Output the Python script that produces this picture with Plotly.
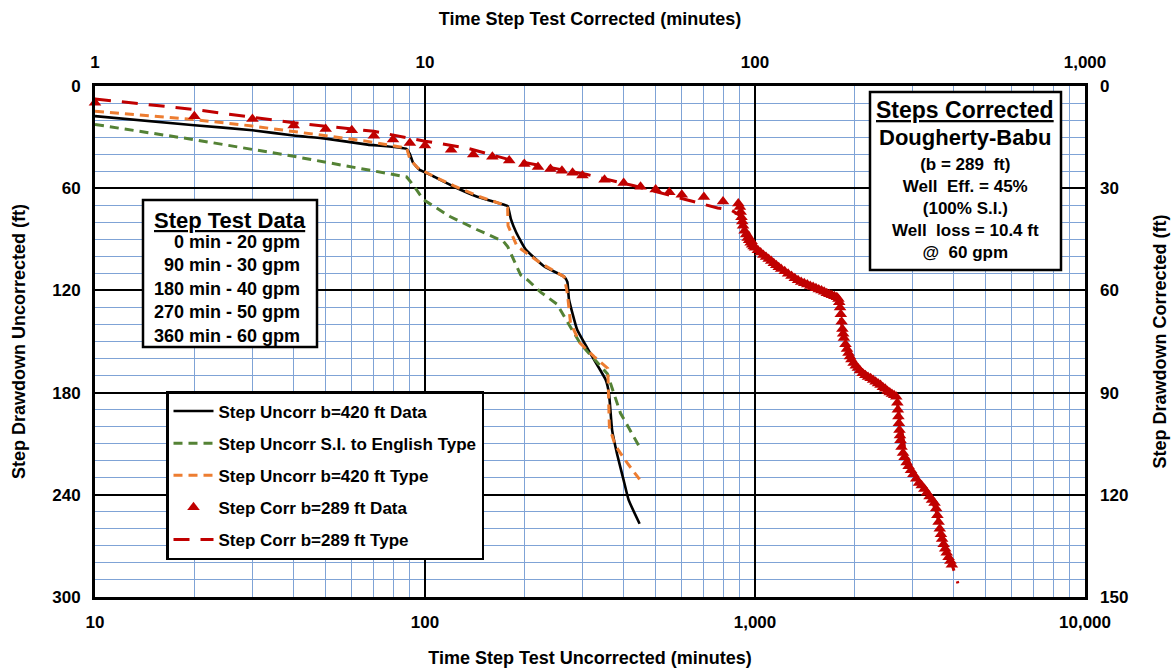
import plotly.graph_objects as go

# ---------------- data ----------------
# Uncorrected step test (bottom x axis: minutes, left y axis: ft)
unc_data_t = [10, 20, 30, 40, 50, 67, 88, 90, 92, 96, 106, 122, 144, 169, 178, 182, 189, 202, 230, 264, 270, 273,
              289, 317, 353, 361, 369, 382, 400, 414, 447]
unc_data_d = [17.7, 23.0, 26.0, 29.1, 30.9, 34.4, 37.0, 40.0, 45.0, 49.0, 53.0, 59.0, 65.0, 69.0, 70.5, 78.0, 86.0,
              96.0, 106.0, 112.0, 115.0, 125.0, 143.0, 157.0, 172.6, 180.5, 202.0, 216.0, 231.5, 243.0, 257.0]

unc_si_t = [10, 20, 40, 67, 88, 92, 99, 119, 144, 173, 178, 195, 205, 224, 251, 295, 357, 391, 447]
unc_si_d = [22.6, 31.5, 41.3, 49.1, 53.4, 58.0, 66.8, 76.6, 84.4, 91.3, 94.2, 111.0, 114.0, 121.0, 128.0, 151.0,
            169.0, 192.0, 212.0]

unc_type_t = [10, 20, 30, 40, 67, 88, 90, 95, 100, 106, 122, 144, 169, 178, 178.5, 190, 224, 264, 270, 276, 295,
              326, 358, 360, 362, 377, 411, 447]
unc_type_d = [14.8, 19.7, 23.5, 26.6, 32.5, 36.4, 43.0, 48.0, 50.5, 53.0, 58.5, 64.5, 69.0, 71.6, 82.0, 94.0,
              104.0, 112.0, 121.6, 139.0, 151.0, 159.0, 165.8, 178.5, 200.0, 211.0, 221.6, 231.0]

# Corrected step test (top x axis: minutes, right y axis: ft)
cor_data_t = [1, 2, 3, 4, 5, 6, 7, 8, 9, 10, 12, 14, 16, 18, 20, 22, 24, 26, 28, 30, 35, 40, 45, 50, 55, 60, 70,
              80, 89,
              90, 90.5, 91, 91.5, 92, 93, 94, 95, 96, 97, 98, 99, 100, 102, 104, 106, 108, 110, 112, 114, 116, 118,
              120, 123, 126, 129, 132, 135, 138, 141, 144, 147, 150, 153, 156, 159, 162, 165, 168, 171, 174, 177,
              179, 180, 181, 182, 183, 184, 185, 186, 188, 190, 192, 194, 196, 199, 202, 205, 208, 212, 216, 220,
              224, 228, 232, 236, 240, 244, 248, 252, 256, 260, 264, 268, 270, 271, 272, 273, 274, 275, 276, 278,
              281, 284, 288, 292, 297, 302, 308, 314, 320, 326, 332, 338, 344, 350, 354, 357, 360, 363, 366, 369,
              373, 377, 381, 386, 391, 395]
cor_data_d = [4.9, 8.9, 9.7, 11.6, 12.6, 13.0, 14.6, 15.7, 16.7, 17.5, 18.7, 20.1, 20.8, 21.9, 22.9, 23.8, 24.4,
              24.9, 25.5, 26.3, 27.5, 28.5, 29.6, 30.4, 31.2, 31.9, 32.6, 33.9, 34.5,
              35.5, 37.0, 38.5, 39.8, 41.0, 42.5, 43.6, 44.6, 45.3, 46.0, 46.6, 47.1, 47.5, 48.2, 48.9, 49.6, 50.2,
              50.8, 51.4, 52.0, 52.6, 53.2, 53.7, 54.4, 55.1, 55.8, 56.4, 57.0, 57.5, 57.9, 58.3, 58.7, 59.0, 59.4,
              59.7, 60.0, 60.4, 60.8, 61.1, 61.4, 61.7, 62.0, 62.5, 63.5, 65.0, 67.0, 69.2, 71.3, 72.7, 74.0, 75.8,
              77.2, 78.4, 79.4, 80.3, 81.3, 82.1, 82.8, 83.5, 84.3, 84.9, 85.4, 85.8, 86.3, 86.8, 87.3, 87.8, 88.4,
              88.9, 89.5, 90.0, 90.4, 90.8, 91.2, 93.0, 95.0, 97.0, 99.0, 101.0, 102.6, 104.0, 106.0, 107.7, 109.0,
              110.5, 111.6, 112.8, 114.0, 115.3, 116.5, 117.3, 118.3, 119.4, 120.5, 121.5, 122.4, 124.0, 126.0,
              128.0, 130.0, 131.6, 133.0, 134.5, 135.8, 137.0, 138.3, 139.4, 140.5]

cor_type_t = [1, 2, 4, 7, 10, 13.4, 18, 31, 43, 65, 77, 85, 90, 94, 100, 109, 122, 138, 159, 178, 180, 182, 190,
              205, 230, 259, 269, 275, 285, 305, 340, 356, 365, 392, 412]
cor_type_d = [3.8, 6.9, 10.8, 13.3, 16.2, 18.2, 21.6, 26.0, 29.3, 33.9, 35.8, 36.5, 38.0, 42.0, 46.0, 50.0, 54.0,
              57.0, 60.0, 62.0, 63.0, 69.0, 76.5, 82.4, 86.3, 90.2, 92.2, 98.0, 107.0, 115.0, 120.6, 125.5, 131.4,
              139.3, 146.0]

bottom_ticks = [10, 100, 1000, 10000]
bottom_labels = ["10", "100", "1,000", "10,000"]
top_ticks = [1, 10, 100, 1000]
top_labels = ["1", "10", "100", "1,000"]
left_ticks = [0, 60, 120, 180, 240, 300]
right_ticks = [0, 30, 60, 90, 120, 150]

legend_names = ["Step Uncorr b=420 ft Data", "Step Uncorr S.I. to English Type", "Step Uncorr b=420 ft Type",
                "Step Corr b=289 ft Data", "Step Corr b=289 ft Type"]

step_box_title = "Step Test Data"
step_box_lines = ["0 min - 20 gpm", "90 min - 30 gpm", "180 min - 40 gpm", "270 min - 50 gpm", "360 min - 60 gpm"]
corr_box_title = "Steps Corrected"
corr_box_sub = "Dougherty-Babu"
corr_box_lines = ["(b = 289  ft)", "Well  Eff. = 45%", "(100% S.I.)", "Well  loss = 10.4 ft", "@  60 gpm"]

# ---------------- style ----------------
FONT = "Liberation Sans, Arial, sans-serif"
RED = "#c00000"
ORANGE = "#ed7d31"
GREEN = "#548235"
BLUE_GRID = "#7fa3d6"

W, H = 1175, 669
ML, MR, MT, MB = 95, 90, 86, 72
PW, PH = W - ML - MR, H - MT - MB


def px(x):
    return (x - ML) / PW


def py(y):
    return 1 - (y - MT) / PH


fig = go.Figure()

fig.add_trace(go.Scatter(x=unc_data_t, y=unc_data_d, mode="lines", name=legend_names[0],
                         line=dict(color="black", width=2.6, shape="spline", smoothing=0.4), legendgroup="a"))
fig.add_trace(go.Scatter(x=unc_si_t, y=unc_si_d, mode="lines", name=legend_names[1],
                         line=dict(color=GREEN, width=3, dash="9px,6px"), legendgroup="b"))
fig.add_trace(go.Scatter(x=unc_type_t, y=unc_type_d, mode="lines", name=legend_names[2],
                         line=dict(color=ORANGE, width=3, dash="9px,6px"), legendgroup="c"))
fig.add_trace(go.Scatter(x=cor_data_t, y=cor_data_d, mode="markers", name=legend_names[3],
                         marker=dict(symbol="triangle-up", color=RED, size=11, line=dict(width=0)),
                         cliponaxis=False, xaxis="x2", yaxis="y2", legendgroup="d"))
fig.add_trace(go.Scatter(x=cor_type_t, y=cor_type_d, mode="lines", name=legend_names[4],
                         line=dict(color=RED, width=3, dash="16px,11px"),
                         xaxis="x2", yaxis="y2", legendgroup="e"))

minor_x = [m * 10 ** k for k in range(1, 4) for m in range(2, 10)]
minor_y = [v for v in range(10, 300, 10) if v % 60 != 0]

tickfont = dict(family=FONT, size=17, color="black", weight="bold")
titlefont = dict(family=FONT, size=18, color="black", weight="bold")

fig.update_layout(
    width=W, height=H,
    margin=dict(l=ML, r=MR, t=MT, b=MB),
    paper_bgcolor="white", plot_bgcolor="white",
    font=dict(family=FONT, color="black"),
    showlegend=True,
    legend=dict(x=px(166), y=py(391), xanchor="left", yanchor="top",
                bgcolor="white", bordercolor="black", borderwidth=2.5,
                font=dict(family=FONT, size=17, color="black", weight="bold"),
                tracegroupgap=7, itemwidth=40),
    xaxis=dict(type="log", range=[1, 4], tickmode="array", tickvals=bottom_ticks, ticktext=bottom_labels,
               showgrid=True, gridcolor="black", gridwidth=2, automargin=False,
               minor=dict(tickmode="array", tickvals=minor_x, showgrid=True, gridcolor=BLUE_GRID,
                          gridwidth=1.3, ticks=""),
               showline=True, linecolor="black", linewidth=3, mirror=True, ticks="",
               tickfont=tickfont, zeroline=False, ticklabelstandoff=8,
               title=dict(text="Time Step Test Uncorrected (minutes)", font=titlefont, standoff=20)),
    yaxis=dict(range=[300, 0], tickmode="array", tickvals=left_ticks, showgrid=True, gridcolor="black",
               gridwidth=2, automargin=False,
               minor=dict(tickmode="array", tickvals=minor_y, showgrid=True, gridcolor=BLUE_GRID,
                          gridwidth=1.3, ticks=""),
               showline=True, linecolor="black", linewidth=3, mirror=True, ticks="",
               tickfont=tickfont, zeroline=False, ticklabelstandoff=8,
               title=dict(text="Step Drawdown Uncorrected (ft)", font=titlefont, standoff=22)),
    xaxis2=dict(type="log", range=[0, 3], overlaying="x", side="top", anchor="y", automargin=False,
                tickmode="array", tickvals=top_ticks, ticktext=top_labels, showgrid=False, ticks="",
                tickfont=tickfont, zeroline=False, ticklabelstandoff=14,
                title=dict(text="Time Step Test Corrected (minutes)", font=titlefont, standoff=22)),
    yaxis2=dict(range=[150, 0], overlaying="y", side="right", anchor="x", automargin=False,
                tickmode="array", tickvals=right_ticks, showgrid=False, ticks="", tickfont=tickfont,
                zeroline=False, ticklabelstandoff=14,
                title=dict(text="Step Drawdown Corrected (ft)", font=titlefont, standoff=26)),
)

# text boxes
shapes = [
    dict(type="rect", xref="paper", yref="paper", x0=px(143), x1=px(317), y0=py(347), y1=py(200),
         fillcolor="white", line=dict(color="black", width=2.5), layer="above"),
    dict(type="rect", xref="paper", yref="paper", x0=px(870), x1=px(1061), y0=py(270), y1=py(92),
         fillcolor="white", line=dict(color="black", width=2.5), layer="above"),
]
fig.update_layout(shapes=shapes)

annotations = [
    dict(xref="paper", yref="paper", x=px(230), y=py(220), xanchor="center", yanchor="middle",
         text="<u>" + step_box_title + "</u>", showarrow=False,
         font=dict(family=FONT, size=22, color="black", weight="bold")),
    dict(xref="paper", yref="paper", x=px(302), y=py(289), xanchor="right", yanchor="middle",
         text="<br>".join(step_box_lines), align="right", showarrow=False,
         font=dict(family=FONT, size=18, color="black", weight="bold")),
    dict(xref="paper", yref="paper", x=px(965), y=py(110), xanchor="center", yanchor="middle",
         text="<u>" + corr_box_title + "</u>", showarrow=False,
         font=dict(family=FONT, size=23, color="black", weight="bold")),
    dict(xref="paper", yref="paper", x=px(965), y=py(137), xanchor="center", yanchor="middle",
         text=corr_box_sub, showarrow=False,
         font=dict(family=FONT, size=22, color="black", weight="bold")),
    dict(xref="paper", yref="paper", x=px(965), y=py(208), xanchor="center", yanchor="middle",
         text="<br>".join(corr_box_lines), align="center", showarrow=False,
         font=dict(family=FONT, size=17, color="black", weight="bold")),
]
fig.update_layout(annotations=annotations)

fig.write_html("out.html")
